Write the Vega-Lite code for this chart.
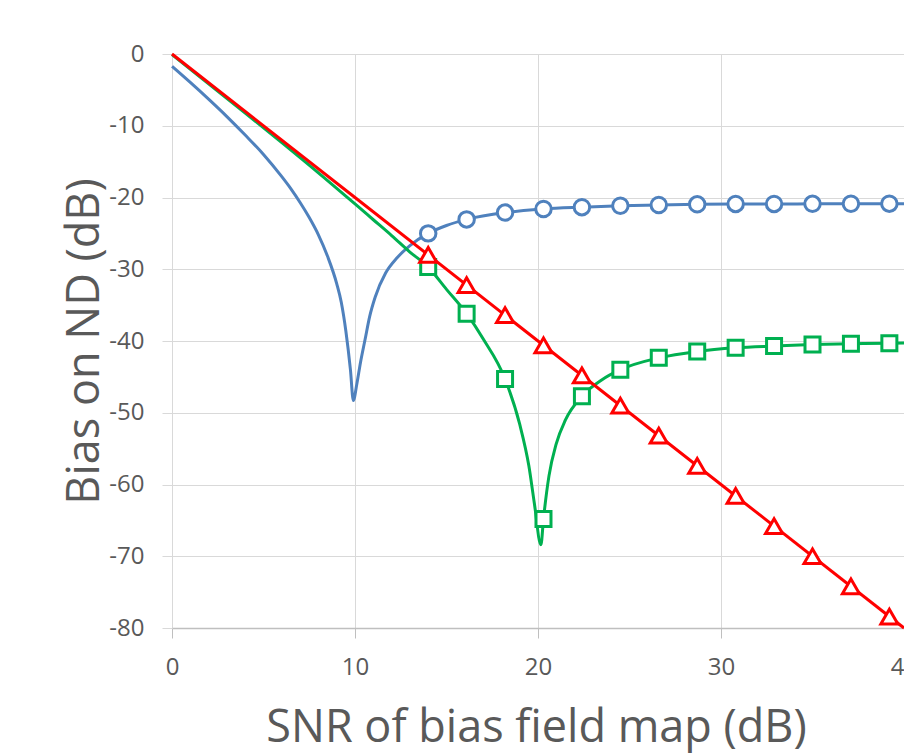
{
  "$schema": "https://vega.github.io/schema/vega-lite/v6.json",
  "autosize": "none",
  "width": 732,
  "height": 574,
  "padding": {"left": 172, "top": 54, "right": 0, "bottom": 125},
  "background": "white",
  "config": {
    "view": {"stroke": null},
    "font": "Open Sans"
  },
  "datasets": {
    "curves": [
      {"series": "blue", "x": 0, "y": -1.71},
      {"series": "blue", "x": 1, "y": -3.96},
      {"series": "blue", "x": 2, "y": -6.29},
      {"series": "blue", "x": 3, "y": -8.72},
      {"series": "blue", "x": 4, "y": -11.3},
      {"series": "blue", "x": 5, "y": -14.0},
      {"series": "blue", "x": 6, "y": -17.1},
      {"series": "blue", "x": 6.5, "y": -18.8},
      {"series": "blue", "x": 7, "y": -20.7},
      {"series": "blue", "x": 7.5, "y": -22.8},
      {"series": "blue", "x": 8, "y": -25.2},
      {"series": "blue", "x": 8.5, "y": -28.2},
      {"series": "blue", "x": 9, "y": -32.0},
      {"series": "blue", "x": 9.25, "y": -34.6},
      {"series": "blue", "x": 9.5, "y": -38.6},
      {"series": "blue", "x": 9.75, "y": -44.0},
      {"series": "blue", "x": 9.91, "y": -48.3},
      {"series": "blue", "x": 10.1, "y": -46.0},
      {"series": "blue", "x": 10.3, "y": -43.0},
      {"series": "blue", "x": 10.55, "y": -39.8},
      {"series": "blue", "x": 10.8, "y": -36.6},
      {"series": "blue", "x": 11.1, "y": -33.9},
      {"series": "blue", "x": 11.68, "y": -30.5},
      {"series": "blue", "x": 12.3, "y": -28.4},
      {"series": "blue", "x": 13, "y": -26.7},
      {"series": "blue", "x": 14, "y": -25.0},
      {"series": "blue", "x": 15, "y": -23.9},
      {"series": "blue", "x": 16.1, "y": -23.05},
      {"series": "blue", "x": 18.2, "y": -22.1},
      {"series": "blue", "x": 20.3, "y": -21.6},
      {"series": "blue", "x": 22.4, "y": -21.35},
      {"series": "blue", "x": 24.5, "y": -21.15},
      {"series": "blue", "x": 26.6, "y": -21.05},
      {"series": "blue", "x": 28.7, "y": -20.95},
      {"series": "blue", "x": 30.8, "y": -20.9},
      {"series": "blue", "x": 32.9, "y": -20.9},
      {"series": "blue", "x": 35, "y": -20.88},
      {"series": "blue", "x": 37.1, "y": -20.87},
      {"series": "blue", "x": 39.2, "y": -20.86},
      {"series": "blue", "x": 40, "y": -20.86},
      {"series": "green", "x": 0, "y": -0.09},
      {"series": "green", "x": 2, "y": -4.14},
      {"series": "green", "x": 4, "y": -8.22},
      {"series": "green", "x": 6, "y": -12.35},
      {"series": "green", "x": 8, "y": -16.56},
      {"series": "green", "x": 10, "y": -20.9},
      {"series": "green", "x": 11, "y": -23.1},
      {"series": "green", "x": 12, "y": -25.3},
      {"series": "green", "x": 13, "y": -27.6},
      {"series": "green", "x": 14, "y": -29.7},
      {"series": "green", "x": 15, "y": -32.8},
      {"series": "green", "x": 16.1, "y": -36.2},
      {"series": "green", "x": 17, "y": -39.7},
      {"series": "green", "x": 18.2, "y": -45.3},
      {"series": "green", "x": 19, "y": -51.6},
      {"series": "green", "x": 19.5, "y": -57.4},
      {"series": "green", "x": 19.8, "y": -62.6},
      {"series": "green", "x": 20.16, "y": -68.4},
      {"series": "green", "x": 20.3, "y": -64.8},
      {"series": "green", "x": 20.6, "y": -58.8},
      {"series": "green", "x": 21, "y": -54.3},
      {"series": "green", "x": 21.5, "y": -51.0},
      {"series": "green", "x": 22.4, "y": -47.7},
      {"series": "green", "x": 23.5, "y": -45.4},
      {"series": "green", "x": 24.5, "y": -44.0},
      {"series": "green", "x": 26.6, "y": -42.35},
      {"series": "green", "x": 28.7, "y": -41.45},
      {"series": "green", "x": 30.8, "y": -40.95},
      {"series": "green", "x": 32.9, "y": -40.7},
      {"series": "green", "x": 35, "y": -40.5},
      {"series": "green", "x": 37.1, "y": -40.4},
      {"series": "green", "x": 39.2, "y": -40.3},
      {"series": "green", "x": 40, "y": -40.28},
      {"series": "red", "x": 0, "y": 0},
      {"series": "red", "x": 10, "y": -20},
      {"series": "red", "x": 20, "y": -40},
      {"series": "red", "x": 30, "y": -60},
      {"series": "red", "x": 40, "y": -80}
    ],
    "markers": [
      {"series": "blue", "x": 14, "y": -25.0},
      {"series": "blue", "x": 16.1, "y": -23.05},
      {"series": "blue", "x": 18.2, "y": -22.1},
      {"series": "blue", "x": 20.3, "y": -21.6},
      {"series": "blue", "x": 22.4, "y": -21.35},
      {"series": "blue", "x": 24.5, "y": -21.15},
      {"series": "blue", "x": 26.6, "y": -21.05},
      {"series": "blue", "x": 28.7, "y": -20.95},
      {"series": "blue", "x": 30.8, "y": -20.9},
      {"series": "blue", "x": 32.9, "y": -20.9},
      {"series": "blue", "x": 35, "y": -20.88},
      {"series": "blue", "x": 37.1, "y": -20.87},
      {"series": "blue", "x": 39.2, "y": -20.86},
      {"series": "green", "x": 14, "y": -29.7},
      {"series": "green", "x": 16.1, "y": -36.2},
      {"series": "green", "x": 18.2, "y": -45.3},
      {"series": "green", "x": 20.3, "y": -64.8},
      {"series": "green", "x": 22.4, "y": -47.7},
      {"series": "green", "x": 24.5, "y": -44.0},
      {"series": "green", "x": 26.6, "y": -42.35},
      {"series": "green", "x": 28.7, "y": -41.45},
      {"series": "green", "x": 30.8, "y": -40.95},
      {"series": "green", "x": 32.9, "y": -40.7},
      {"series": "green", "x": 35, "y": -40.5},
      {"series": "green", "x": 37.1, "y": -40.4},
      {"series": "green", "x": 39.2, "y": -40.3},
      {"series": "red", "x": 14, "y": -28},
      {"series": "red", "x": 16.1, "y": -32.2},
      {"series": "red", "x": 18.2, "y": -36.4},
      {"series": "red", "x": 20.3, "y": -40.6},
      {"series": "red", "x": 22.4, "y": -44.8},
      {"series": "red", "x": 24.5, "y": -49},
      {"series": "red", "x": 26.6, "y": -53.2},
      {"series": "red", "x": 28.7, "y": -57.4},
      {"series": "red", "x": 30.8, "y": -61.6},
      {"series": "red", "x": 32.9, "y": -65.8},
      {"series": "red", "x": 35, "y": -70},
      {"series": "red", "x": 37.1, "y": -74.2},
      {"series": "red", "x": 39.2, "y": -78.4}
    ]
  },
  "encoding": {
    "x": {
      "field": "x", "type": "quantitative",
      "scale": {"domain": [0, 40], "nice": false, "zero": false},
      "axis": {
        "title": "SNR of bias field map (dB)",
        "values": [0, 10, 20, 30, 40],
        "labelExpr": "'' + datum.value",
        "grid": true, "gridColor": "#d9d9d9", "gridWidth": 1,
        "domain": true, "domainColor": "#bfbfbf", "domainWidth": 1.3,
        "ticks": true, "tickColor": "#bfbfbf", "tickSize": 10,
        "labelFont": "Open Sans", "labelFontSize": 24, "labelColor": "#595959",
        "labelPadding": 17, "labelFlush": false, "labelOverlap": false,
        "titleFont": "Open Sans", "titleFontSize": 45, "titleFontWeight": "normal", "titleColor": "#595959",
        "titleX": 364, "titleY": 113, "titleBaseline": "alphabetic", "titleAlign": "center"
      }
    },
    "y": {
      "field": "y", "type": "quantitative",
      "scale": {"domain": [-80, 0], "nice": false, "zero": false},
      "axis": {
        "title": "Bias on ND (dB)",
        "values": [0, -10, -20, -30, -40, -50, -60, -70, -80],
        "labelExpr": "'' + datum.value",
        "grid": true, "gridColor": "#d9d9d9", "gridWidth": 1,
        "domain": false,
        "ticks": true, "tickColor": "#d9d9d9", "tickSize": 10,
        "labelFont": "Open Sans", "labelFontSize": 24, "labelColor": "#595959",
        "labelPadding": 18, "labelFlush": false, "labelOverlap": false,
        "titleFont": "Open Sans", "titleFontSize": 45, "titleFontWeight": "normal", "titleColor": "#595959",
        "titleAngle": -90, "titleX": -74, "titleY": 287, "titleBaseline": "alphabetic", "titleAlign": "center"
      }
    }
  },
  "layer": [
    {
      "data": {"name": "curves"},
      "transform": [{"filter": "datum.series === 'blue'"}],
      "mark": {"type": "line", "color": "#4f81bd", "strokeWidth": 3, "interpolate": "monotone"}
    },
    {
      "data": {"name": "markers"},
      "transform": [{"filter": "datum.series === 'blue'"}],
      "mark": {"type": "point", "shape": "circle", "filled": true, "fill": "white", "stroke": "#4f81bd", "strokeWidth": 3, "size": 240, "opacity": 1}
    },
    {
      "data": {"name": "curves"},
      "transform": [{"filter": "datum.series === 'green'"}],
      "mark": {"type": "line", "color": "#00b050", "strokeWidth": 3, "interpolate": "monotone"}
    },
    {
      "data": {"name": "markers"},
      "transform": [{"filter": "datum.series === 'green'"}],
      "mark": {"type": "point", "shape": "square", "filled": true, "fill": "white", "stroke": "#00b050", "strokeWidth": 3, "size": 225, "opacity": 1}
    },
    {
      "data": {"name": "curves"},
      "transform": [{"filter": "datum.series === 'red'"}],
      "mark": {"type": "line", "color": "#ff0000", "strokeWidth": 3}
    },
    {
      "data": {"name": "markers"},
      "transform": [{"filter": "datum.series === 'red'"}],
      "mark": {"type": "point", "shape": "triangle-up", "filled": true, "fill": "white", "stroke": "#ff0000", "strokeWidth": 3, "size": 290, "opacity": 1}
    }
  ]
}
